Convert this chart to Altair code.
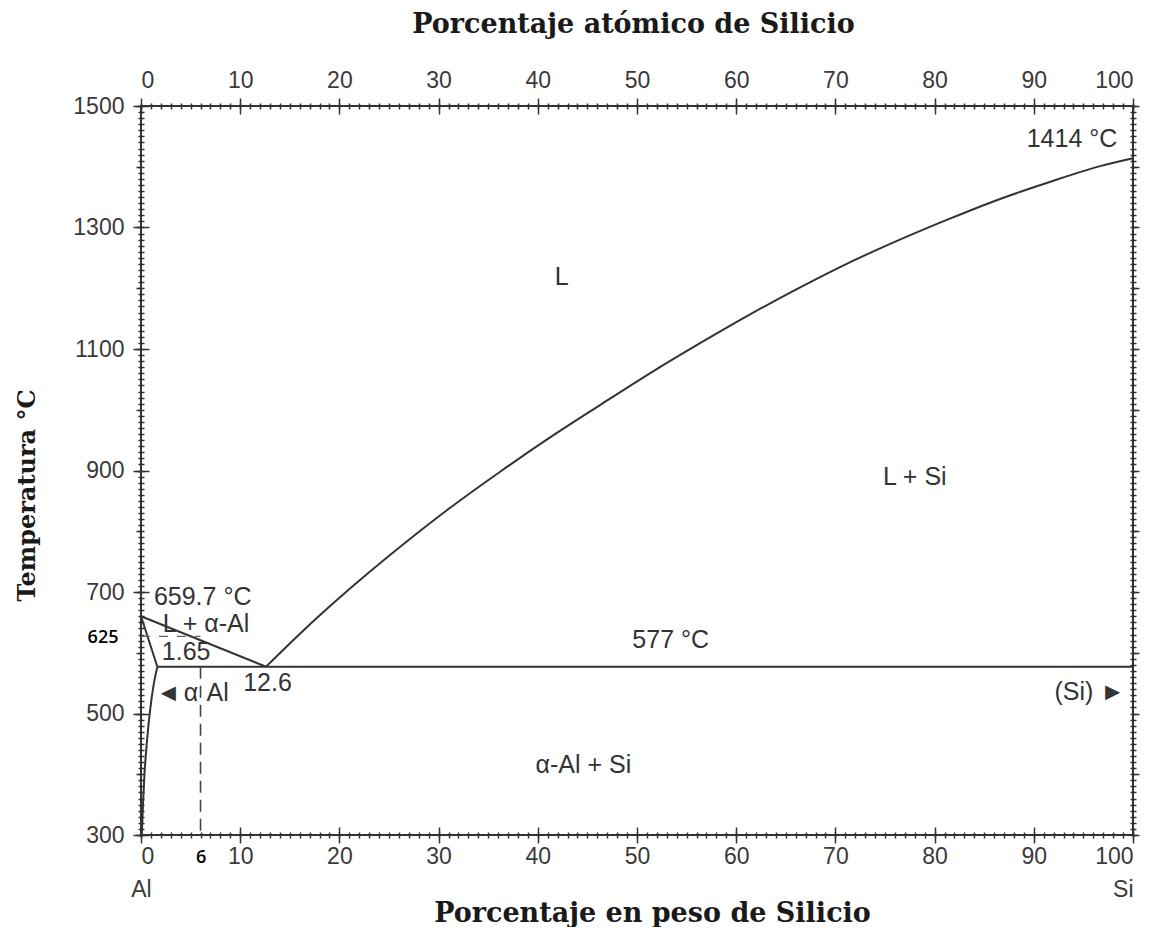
import altair as alt
import pandas as pd

# ---------------- data ----------------
liq_si_wt = [12.6, 16.0, 21.1, 26.1, 31.2, 36.2, 41.2, 46.3, 51.3, 56.4, 61.4, 66.4, 71.5, 76.5, 81.6, 86.6, 91.6, 96.7, 100]
liq_si_T = [577, 631, 706, 774, 839, 898, 954, 1008, 1060, 1110, 1157, 1201, 1243, 1280, 1315, 1347, 1375, 1401, 1414]
liq_al_wt = [0, 12.6]
liq_al_T = [660, 577]
solidus_wt = [0, 1.65]
solidus_T = [660, 577]
solvus_wt = [1.65, 1.3, 0.9, 0.6, 0.35, 0.2, 0.08]
solvus_T = [577, 550, 503, 454, 400, 350, 300]
eut_wt = [1.65, 100]
eut_T = [577, 577]
dash_v_wt = [6, 6]
dash_v_T = [577, 300]
dash_h_wt = [0, 6]
dash_h_T = [627, 627]

lab_text = ["L", "L + Si", "α-Al + Si", "577 °C", "1414 °C", "659.7 °C", "L + α-Al", "1.65", "12.6", "◄", "α", "Al", "(Si) ►"]
lab_x = [42.4, 78.0, 44.6, 53.4, 93.85, 1.3, 2.2, 2.1, 10.3, 1.5, 4.3, 6.6, 99.2]
lab_y = [1218, 889, 415, 621, 1446, 692, 648, 601, 550, 534, 534, 534, 535]
lab_align = ["center", "center", "center", "center", "center", "left", "left", "left", "left", "left", "left", "left", "right"]

x_major = list(range(0, 101, 10))
x_minor = list(range(0, 101, 1))
y_labels = list(range(300, 1501, 200))
y_mid = list(range(300, 1501, 100))
y_minor = list(range(300, 1501, 10))

# ---------------- build ----------------
def seg(name, xs, ys):
    return pd.DataFrame({"seg": name, "wt": xs, "T": ys, "o": range(len(xs))})

curve_df = seg("liq_si", liq_si_wt, liq_si_T)
solid_df = pd.concat([
    seg("liq_al", liq_al_wt, liq_al_T),
    seg("solidus", solidus_wt, solidus_T),
    seg("solvus", solvus_wt, solvus_T),
    seg("eut", eut_wt, eut_T),
])
lab_df = pd.DataFrame({"t": lab_text, "wt": lab_x, "T": lab_y, "al": lab_align})

XS = alt.Scale(domain=[0, 100], nice=False, zero=False)
YS = alt.Scale(domain=[300, 1500], nice=False, zero=False)
INK = "#333333"
LABF = "Liberation Sans"

def enc(ch):
    return ch.encode(
        x=alt.X("wt:Q", scale=XS, axis=None),
        y=alt.Y("T:Q", scale=YS, axis=None),
        detail="seg:N", order="o:Q")

curve = enc(alt.Chart(curve_df).mark_line(color=INK, strokeWidth=2, interpolate="monotone"))
lines = enc(alt.Chart(solid_df).mark_line(color=INK, strokeWidth=2, interpolate="monotone"))
dash_v = enc(alt.Chart(seg("dv", dash_v_wt, dash_v_T)).mark_line(
    color="#444444", strokeWidth=1.6, strokeDash=[12, 7]))
dash_h = enc(alt.Chart(seg("dh", dash_h_wt, dash_h_T)).mark_line(
    color="#666666", strokeWidth=1.3, strokeDash=[9, 9]))

def txt(align):
    return alt.Chart(lab_df[lab_df.al == align]).mark_text(
        font=LABF, fontSize=25, color=INK, align=align, baseline="middle").encode(
        x=alt.X("wt:Q", scale=XS, axis=None),
        y=alt.Y("T:Q", scale=YS, axis=None),
        text="t:N")

dummy = pd.DataFrame({"x": [0], "y": [300]})

def base_axis(**kw):
    d = dict(domain=False, grid=False, tickColor=INK, tickWidth=1.5, labels=False, title=None)
    d.update(kw)
    return alt.Axis(**d)

def xaxis(**kw):
    return alt.Chart(dummy).mark_point(opacity=0).encode(
        x=alt.X("x:Q", scale=XS, axis=base_axis(**kw)),
        y=alt.Y("y:Q", scale=YS, axis=None))

def yaxis(**kw):
    return alt.Chart(dummy).mark_point(opacity=0).encode(
        x=alt.X("x:Q", scale=XS, axis=None),
        y=alt.Y("y:Q", scale=YS, axis=base_axis(**kw)))

lab_kw = dict(labels=True, labelFont=LABF, labelFontSize=23, labelColor="#3a3a3a", format="d")
title_kw = dict(titleFont="DejaVu Serif", titleFontWeight="bold", titleColor="#1a1a1a")

axes = [
    # bottom
    xaxis(orient="bottom", values=x_major, tickSize=8, labelPadding=2,
          title="Porcentaje en peso de Silicio", titleX=511, titleY=78, titleFontSize=27,
          titleAlign="center", titleBaseline="middle", **lab_kw, **title_kw),
    xaxis(orient="bottom", values=x_major, tickSize=8, offset=-8),
    xaxis(orient="bottom", values=x_minor, tickSize=3),
    xaxis(orient="bottom", values=x_minor, tickSize=3, offset=-3),
    xaxis(orient="bottom", values=[6], tickSize=0, labels=True, labelPadding=13,
          labelFont="Open Sans", labelFontSize=18, labelColor="#000000", labelFontWeight=600),
    xaxis(orient="bottom", values=[0, 100], tickSize=0, labels=True, labelPadding=43,
          labelFont=LABF, labelFontSize=23, labelColor="#3a3a3a",
          labelExpr="datum.value == 0 ? 'Al' : 'Si'",
          labelAlign={"condition": {"test": "datum.value == 100", "value": "right"}, "value": "center"}),
    # top
    xaxis(orient="top", values=x_major, tickSize=8, labelPadding=6,
          title="Porcentaje atómico de Silicio", titleX=492, titleY=-82, titleFontSize=27,
          titleAlign="center", titleBaseline="middle", **lab_kw, **title_kw),
    xaxis(orient="top", values=x_major, tickSize=8, offset=-8),
    xaxis(orient="top", values=x_minor, tickSize=3),
    xaxis(orient="top", values=x_minor, tickSize=3, offset=-3),
    # left
    yaxis(orient="left", values=y_labels, tickSize=8, labelPadding=9,
          title="Temperatura °C", titleX=-114, titleY=389, titleAngle=270, titleFontSize=24,
          titleAlign="center", titleBaseline="middle", **lab_kw, **title_kw),
    yaxis(orient="left", values=y_labels, tickSize=8, offset=-8),
    yaxis(orient="left", values=y_mid, tickSize=5),
    yaxis(orient="left", values=y_minor, tickSize=3),
    yaxis(orient="left", values=y_minor, tickSize=3, offset=-3),
    yaxis(orient="left", values=[625], tickSize=0, labels=True, labelPadding=23,
          labelFont="Open Sans", labelFontSize=18, labelColor="#000000", labelFontWeight=600),
    # right
    yaxis(orient="right", values=y_mid, tickSize=6),
    yaxis(orient="right", values=y_minor, tickSize=3),
    yaxis(orient="right", values=y_minor, tickSize=3, offset=-3),
]

chart = alt.layer(curve, lines, dash_v, dash_h, txt("center"), txt("left"), txt("right"), *axes).resolve_axis(
    x="independent", y="independent"
).properties(
    width=992, height=729,
    autosize=alt.AutoSizeParams(type="none"),
    padding={"left": 133, "top": 98, "right": 23, "bottom": 92},
    background="white",
).configure_view(stroke=INK, strokeWidth=2)

chart.save("out.html", embed_options={"renderer": "svg", "actions": False})
